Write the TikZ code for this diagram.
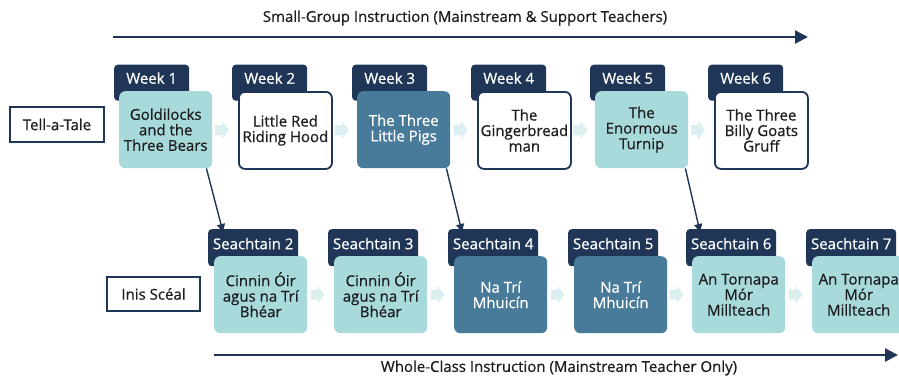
\documentclass[tikz,border=0pt]{standalone}
\usepackage{fontspec}
\setmainfont{Open Sans}[FakeBold=0.7]
\usetikzlibrary{arrows.meta,calc}
\definecolor{navy}{RGB}{31,54,87}
\definecolor{teal}{RGB}{168,218,219}
\definecolor{midblue}{RGB}{72,122,154}
\definecolor{pale}{RGB}{220,239,240}
\definecolor{ink}{RGB}{30,30,32}
\begin{document}
\begin{tikzpicture}[x=1pt,y=-1pt,
  weektab/.style={fill=navy, text=white, rounded corners=3.5pt, inner sep=0pt,
    minimum width=75pt, minimum height=36pt, text height=11pt, text depth=9pt,
    font=\fontsize{15}{16}\selectfont, anchor=north west},
  seachtab/.style={weektab, minimum width=90pt, minimum height=37pt, text depth=8pt},
  story/.style={rounded corners=6pt, inner sep=1pt, minimum width=93pt, minimum height=77pt,
    align=center, text=ink, font=\fontsize{15}{15.5}\selectfont, anchor=north west},
  plain/.style={story, fill=white, draw=navy, line width=1.8pt},
  tealbox/.style={story, fill=teal},
  bluebox/.style={story, fill=midblue, text=white},
  sidebox/.style={draw=navy, line width=1.6pt, fill=white, text=ink, inner sep=0pt,
    font=\fontsize{15}{16}\selectfont},
  timeline/.style={draw=navy, line width=2.6pt, -{Triangle[length=13pt,width=13pt]}},
  link/.style={draw=navy, line width=1.4pt, -{Triangle[length=8pt,width=8pt]}},
  caption/.style={text=ink, inner sep=0pt, font=\fontsize{15}{16}\selectfont},
  chev/.pic={\fill[pale] (-7,-5) -- (0,-5) -- (0,-9) -- (7,0) -- (0,9) -- (0,5) -- (-7,5) -- cycle;}
]
\useasboundingbox (0,0) rectangle (899,378);

% ---- top timeline ----
\node[caption] (toptitle) at (465,18) {Small-Group Instruction (Mainstream \& Support Teachers)};
\coordinate (topA) at (113,37);
\coordinate (topB) at (808,37);
\draw[timeline] (topA) -- (topB);

% ---- Tell-a-Tale row ----
\node[sidebox, minimum width=94pt, minimum height=35pt] (tat) at (57,124.5) {Tell-a-Tale};

\node[weektab] (w1) at (114,64.5) {Week 1};
\node[weektab] (w2) at (232,64.5) {Week 2};
\node[weektab] (w3) at (352,64.5) {Week 3};
\node[weektab] (w4) at (471,64.5) {Week 4};
\node[weektab] (w5) at (590,64.5) {Week 5};
\node[weektab] (w6) at (708,64.5) {Week 6};

\node[tealbox] (b1) at (119,91) {Goldilocks\\and the\\Three Bears};
\node[plain]   (b2) at (238,91) {Little Red\\Riding Hood};
\node[bluebox] (b3) at (357,91) {The Three\\Little Pigs};
\node[plain]   (b4) at (477,91) {The\\Gingerbread\\man};
\node[tealbox] (b5) at (595,91) {The\\Enormous\\Turnip};
\node[plain]   (b6) at (714,91) {The Three\\Billy Goats\\Gruff};

\foreach \a/\b in {b1/b2,b2/b3,b3/b4,b4/b5,b5/b6}
  \pic at ($(\a.east)!0.5!(\b.west)+(-3,0)$) {chev};

% ---- Inis Scéal row ----
\node[sidebox, minimum width=93pt, minimum height=34pt] (inis) at (153.5,294) {Inis Scéal};

\node[seachtab] (s2) at (208,229) {Seachtain 2};
\node[seachtab] (s3) at (328,229) {Seachtain 3};
\node[seachtab] (s4) at (448,229) {Seachtain 4};
\node[seachtab] (s5) at (568,229) {Seachtain 5};
\node[seachtab] (s6) at (686,229) {Seachtain 6};
\node[seachtab] (s7) at (806,229) {Seachtain 7};

\node[tealbox] (c2) at (214,256) {Cinnin Óir\\agus na Trí\\Bhéar};
\node[tealbox] (c3) at (334,256) {Cinnin Óir\\agus na Trí\\Bhéar};
\node[bluebox] (c4) at (454,256) {Na Trí\\Mhuicín};
\node[bluebox] (c5) at (574,256) {Na Trí\\Mhuicín};
\node[tealbox] (c6) at (692,256) {An Tornapa\\Mór\\Millteach};
\node[tealbox] (c7) at (812,256) {An Tornapa\\Mór\\Millteach};

\foreach \a/\b in {c2/c3,c3/c4,c4/c5,c5/c6,c6/c7}
  \pic at ($(\a.east)!0.5!(\b.west)+(-3,0)$) {chev};

% ---- links between the two rows ----
\draw[link] ([xshift=-6pt]b1.south east) -- ([xshift=15pt,yshift=-3pt]s2.north west);
\draw[link] ([xshift=-4pt]b3.south east) -- ([xshift=14pt,yshift=-3pt]s4.north west);
\draw[link] ([xshift=-3pt]b5.south east) -- ([xshift=14pt,yshift=-3pt]s6.north west);

% ---- bottom timeline ----
\coordinate (botA) at (214,355);
\coordinate (botB) at (898,355);
\draw[timeline] (botA) -- (botB);
\node[caption] (bottitle) at (559,368) {Whole-Class Instruction (Mainstream Teacher Only)};
\end{tikzpicture}
\end{document}
